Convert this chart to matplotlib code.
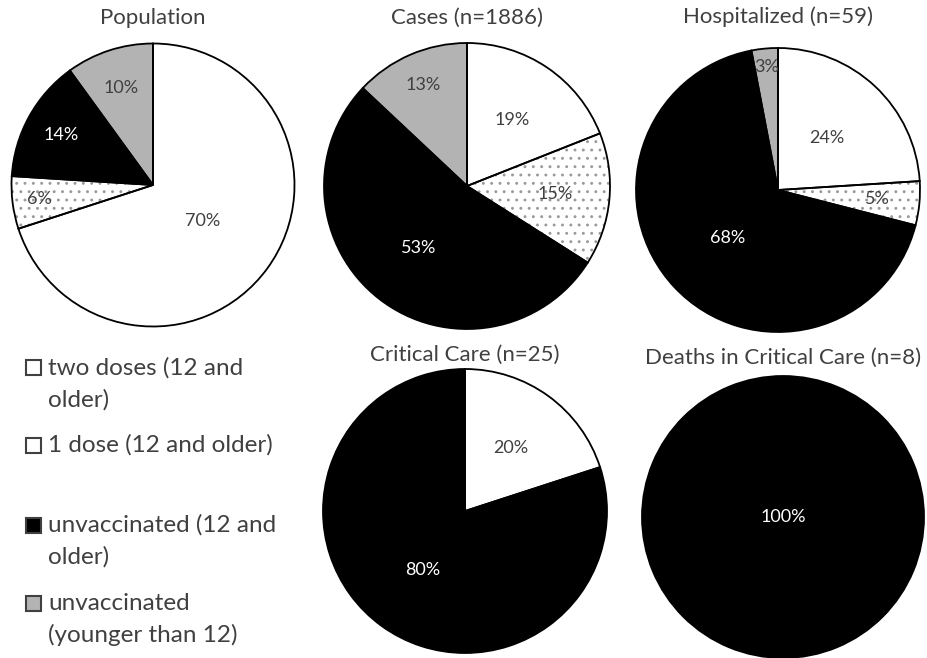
import numpy as np
import matplotlib
matplotlib.use("Agg")
import matplotlib.pyplot as plt
from matplotlib.patches import Rectangle

plt.rcParams['font.family'] = ['Lato', 'DejaVu Sans']
plt.rcParams['hatch.linewidth'] = 0.9

# ---- data ----
categories = ["two doses (12 and older)", "1 dose (12 and older)",
              "unvaccinated (12 and older)", "unvaccinated (younger than 12)"]
legend_labels = ["two doses (12 and\nolder)", "1 dose (12 and older)",
                 "unvaccinated (12 and\nolder)", "unvaccinated\n(younger than 12)"]
titles = ["Population", "Cases (n=1886)", "Hospitalized (n=59)",
          "Critical Care (n=25)", "Deaths in Critical Care (n=8)"]
population = [70, 6, 14, 10]
cases = [19, 15, 53, 13]
hospitalized = [24, 5, 68, 3]
critical_care = [20, 0, 80, 0]
deaths = [0, 0, 100, 0]
series = [population, cases, hospitalized, critical_care, deaths]

# ---- styles / layout ----
face_colors = ["white", "white", "black", "#b3b3b3"]
hatches = [None, "..", None, None]
hatch_edge = ["white", "#9a9a9a", "black", "#b3b3b3"]
text_colors = ["#404040", "#404040", "white", "#404040"]
TXT = "#404040"
W, H = 927, 658
centers = [(153, 185), (467, 186), (778, 190), (465, 511), (783, 517)]
radii = [141.5, 143, 142, 142, 141]
label_dist = [[0.43, 0.81, 0.74, 0.72],
              [0.56, 0.62, 0.55, 0.77],
              [0.50, 0.70, 0.49, 0.87],
              [0.55, 0.0, 0.51, 0.0],
              [0.0, 0.0, 0.0, 0.0]]
title_pos = [(153, 18), (467, 18), (778, 17), (465, 355), (783, 358)]

fig = plt.figure(figsize=(W / 100, H / 100), dpi=100)

for i, vals in enumerate(series):
    cx, cy = centers[i]
    R = radii[i]
    ax = fig.add_axes([(cx - R) / W, 1 - (cy + R) / H, 2 * R / W, 2 * R / H])
    # fills (with gray hatch dots)
    fills, _ = ax.pie(vals, startangle=90, counterclock=False, colors=face_colors,
                      wedgeprops=dict(linewidth=0))
    for j, w in enumerate(fills):
        w.set_edgecolor(hatch_edge[j])
        w.set_linewidth(0)
        if hatches[j]:
            w.set_hatch(hatches[j])
        w.set_clip_on(False)
        if vals[j] == 0:
            w.set_visible(False)
    # outlines
    outlines, _ = ax.pie(vals, startangle=90, counterclock=False,
                         wedgeprops=dict(facecolor="none", edgecolor="black", linewidth=1.3))
    for j, w in enumerate(outlines):
        w.set_clip_on(False)
        if vals[j] == 0:
            w.set_visible(False)
            continue
        mid = np.deg2rad((w.theta1 + w.theta2) / 2)
        d = label_dist[i][j]
        ax.text(d * np.cos(mid), d * np.sin(mid), f"{vals[j]}%", ha="center", va="center",
                fontsize=13, color=text_colors[j])
    ax.set_xlim(-1, 1)
    ax.set_ylim(-1, 1)
    ax.set_aspect("equal")
    ax.axis("off")
    tx, ty = title_pos[i]
    fig.text(tx / W, 1 - ty / H, titles[i], ha="center", va="center",
             fontsize=16, color=TXT)

# ---- legend ----
leg_first_y = [368, 445, 525, 603]
pitch = 32
for k, lab in enumerate(legend_labels):
    y0 = leg_first_y[k]
    sq = Rectangle((26 / W, 1 - (y0 + 7.5) / H), 15 / W, 15 / H,
                   transform=fig.transFigure, facecolor=face_colors[k],
                   edgecolor="#404040", linewidth=1.5)
    fig.add_artist(sq)
    for n, line in enumerate(lab.split("\n")):
        fig.text(48 / W, 1 - (y0 + n * pitch) / H, line, ha="left", va="center",
                 fontsize=17.5, color=TXT)

fig.savefig("out.png", dpi=100)
